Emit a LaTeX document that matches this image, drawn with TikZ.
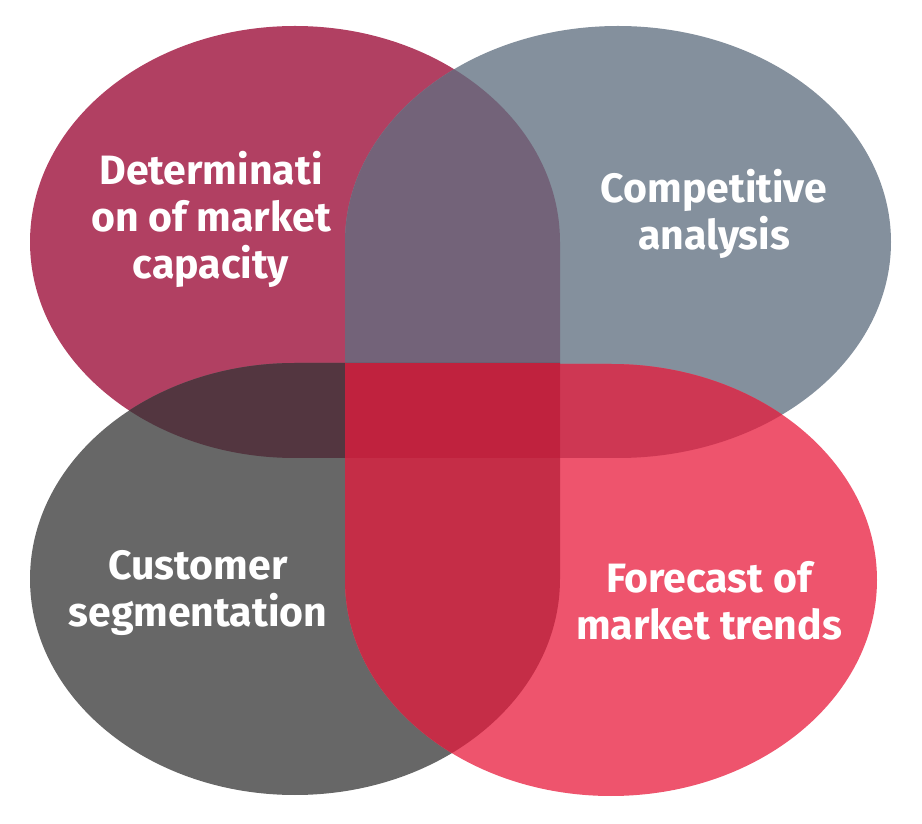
\documentclass[tikz,border=0pt]{standalone}
\usepackage{fontspec}
\setmainfont{Fira Sans}
\definecolor{cTL}{HTML}{B14062}
\definecolor{cTR}{HTML}{84909D}
\definecolor{cBL}{HTML}{676767}
\definecolor{cBR}{HTML}{EE546D}
\definecolor{cTLTR}{HTML}{736379}
\definecolor{cTLBL}{HTML}{533640}
\definecolor{cTRBR}{HTML}{CE3753}
\definecolor{cBLBR}{HTML}{C52D47}
\definecolor{cMID}{HTML}{C0223E}
\def\pathTL{(560,365) -- (560,581) arc[start angle=0, end angle=270, x radius=265pt, y radius=216pt] -- cycle}
\def\pathTR{(345,365) -- (345,581) arc[start angle=180, end angle=-90, x radius=273pt, y radius=216pt] -- cycle}
\def\pathBL{(560,460) -- (295,460) arc[start angle=90, end angle=360, x radius=265pt, y radius=216pt] -- cycle}
\def\pathBR{(345,460) -- (345,243) arc[start angle=180, end angle=450, x radius=266pt, y radius=216pt] -- cycle}
\tikzset{lbl/.style={text=white, align=center, font=\bfseries\fontsize{41}{47}\selectfont, inner sep=0pt}}
\begin{document}
\begin{tikzpicture}[x=1pt,y=1pt]
\useasboundingbox (0,0) rectangle (922,823);
\fill[cTL] \pathTL;
\fill[cTR] \pathTR;
\fill[cBL] \pathBL;
\fill[cBR] \pathBR;
\begin{scope}\clip \pathTL; \fill[cTLTR] \pathTR; \end{scope}
\begin{scope}\clip \pathTL; \fill[cTLBL] \pathBL; \end{scope}
\begin{scope}\clip \pathTR; \fill[cTRBR] \pathBR; \end{scope}
\begin{scope}\clip \pathBL; \fill[cBLBR] \pathBR; \end{scope}
\fill[cMID] (345,365) rectangle (560,460);
\node[lbl] (t1) at (211,604) {Determinati\\on of market\\capacity};
\node[lbl] (t2) at (714,609) {Competitive\\analysis};
\node[lbl] (t3) at (198,230) {Customer\\segmentation};
\node[lbl] (t4) at (709,222) {Forecast of\\market trends};
\end{tikzpicture}
\end{document}
